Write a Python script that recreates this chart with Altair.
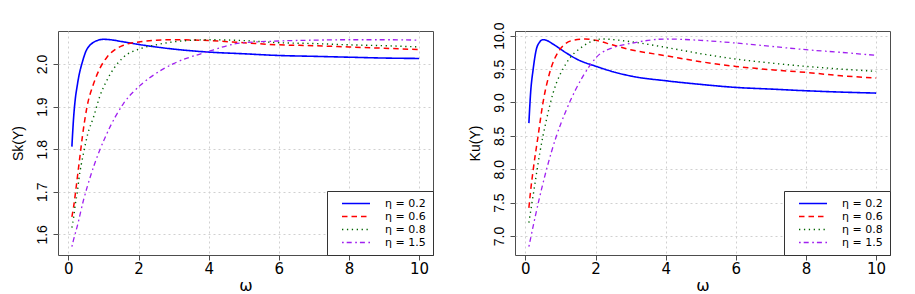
import altair as alt
import pandas as pd

labels = ["η = 0.2", "η = 0.6", "η = 0.8", "η = 1.5"]
colors = ["#0000FF", "#FF0000", "#006400", "#A020F0"]
dashes = [[1, 0], [5.5, 4], [1.3, 3.6], [1.7, 3, 5, 3.5]]
widths = [1.6, 1.3, 1.3, 1.3]

# Skewness panel
sk_w_02 = [0.1, 0.15, 0.2, 0.25, 0.3, 0.4, 0.5, 0.6, 0.7, 0.85, 1.0, 1.2, 1.5, 2.0, 2.5, 3.0, 4.0, 5.0, 6.0, 7.0, 8.0, 9.0, 10.0]
sk_v_02 = [1.806, 1.875, 1.92, 1.948, 1.972, 2.005, 2.030, 2.043, 2.050, 2.056, 2.058, 2.057, 2.053, 2.046, 2.040, 2.035, 2.028, 2.024, 2.020, 2.018, 2.016, 2.014, 2.013]
sk_w_06 = [0.1, 0.15, 0.2, 0.25, 0.34, 0.4, 0.53, 0.72, 0.9, 1.1, 1.3, 1.57, 2.05, 2.5, 3.0, 4.0, 5.0, 6.0, 7.0, 8.0, 9.0, 10.0]
sk_v_06 = [1.641, 1.665, 1.696, 1.73, 1.79, 1.83, 1.899, 1.954, 1.99, 2.016, 2.032, 2.044, 2.052, 2.056, 2.057, 2.055, 2.050, 2.045, 2.043, 2.040, 2.037, 2.034]
sk_w_08 = [0.1, 0.15, 0.2, 0.25, 0.3, 0.43, 0.55, 0.72, 0.9, 1.1, 1.3, 1.57, 2.05, 2.5, 3.0, 4.0, 5.0, 6.0, 7.0, 8.0, 9.0, 10.0]
sk_v_08 = [1.616, 1.64, 1.672, 1.696, 1.73, 1.79, 1.835, 1.876, 1.925, 1.962, 1.99, 2.016, 2.036, 2.045, 2.052, 2.057, 2.055, 2.050, 2.048, 2.045, 2.043, 2.040]
sk_w_15 = [0.1, 0.15, 0.25, 0.43, 0.55, 0.72, 1.1, 1.57, 2.05, 2.5, 3.0, 3.94, 4.89, 6.0, 7.0, 8.0, 9.0, 10.0]
sk_v_15 = [1.571, 1.588, 1.618, 1.680, 1.715, 1.759, 1.837, 1.907, 1.950, 1.978, 2.001, 2.028, 2.049, 2.054, 2.056, 2.057, 2.057, 2.056]

# Kurtosis panel
ku_w_02 = [0.1, 0.15, 0.22, 0.31, 0.4, 0.5, 0.6, 0.8, 1.17, 1.5, 2.02, 2.5, 3.06, 4.0, 5.0, 6.0, 7.0, 8.0, 9.0, 10.0]
ku_v_02 = [8.69, 9.15, 9.49, 9.79, 9.90, 9.94, 9.93, 9.87, 9.74, 9.64, 9.54, 9.46, 9.39, 9.325, 9.27, 9.225, 9.20, 9.175, 9.155, 9.14]
ku_w_06 = [0.1, 0.15, 0.22, 0.36, 0.5, 0.69, 0.98, 1.35, 1.7, 2.0, 2.5, 3.0, 4.0, 5.0, 6.0, 7.0, 8.0, 9.0, 10.0]
ku_v_06 = [7.42, 7.68, 7.98, 8.49, 8.99, 9.44, 9.79, 9.93, 9.95, 9.93, 9.86, 9.79, 9.70, 9.61, 9.54, 9.49, 9.45, 9.40, 9.365]
ku_w_08 = [0.1, 0.26, 0.41, 0.6, 0.79, 1.17, 1.64, 2.2, 2.7, 3.0, 4.0, 5.0, 6.0, 7.0, 8.0, 9.0, 10.0]
ku_v_08 = [7.20, 7.74, 8.24, 8.74, 9.14, 9.59, 9.84, 9.95, 9.93, 9.91, 9.825, 9.73, 9.65, 9.59, 9.54, 9.50, 9.465]
ku_w_15 = [0.1, 0.26, 0.41, 0.6, 0.88, 1.17, 1.64, 2.11, 2.5, 3.06, 4.0, 5.0, 6.0, 7.0, 8.0, 9.0, 10.0]
ku_v_15 = [6.84, 7.24, 7.59, 7.99, 8.49, 8.89, 9.39, 9.72, 9.82, 9.89, 9.95, 9.93, 9.89, 9.84, 9.79, 9.75, 9.705]

x_ticks = [0, 2, 4, 6, 8, 10]
sk_ticks = [1.6, 1.7, 1.8, 1.9, 2.0]
ku_ticks = [7.0, 7.5, 8.0, 8.5, 9.0, 9.5, 10.0]


def frame(ws, vs):
    rows = []
    for lab, w, v in zip(labels, ws, vs):
        for i, (a, b) in enumerate(zip(w, v)):
            rows.append({"eta": lab, "omega": a, "val": b, "order": i})
    return pd.DataFrame(rows)


sk_df = frame([sk_w_02, sk_w_06, sk_w_08, sk_w_15], [sk_v_02, sk_v_06, sk_v_08, sk_v_15])
ku_df = frame([ku_w_02, ku_w_06, ku_w_08, ku_w_15], [ku_v_02, ku_v_06, ku_v_08, ku_v_15])

legend = alt.Legend(
    title=None, orient="bottom-right", offset=0, strokeColor="#333333",
    fillColor="white", padding=7, cornerRadius=0, symbolType="stroke",
    symbolSize=784, symbolOffset=7, labelOffset=14, rowPadding=1, clipHeight=11,
    labelFont="DejaVu Sans", labelFontSize=11, labelColor="#000000",
    symbolStrokeWidth=1.3,
)


def panel(df, title, ticks, dom):
    return alt.Chart(df).mark_line(interpolate="monotone", clip=True).encode(
        x=alt.X("omega:Q", title="ω",
                scale=alt.Scale(domain=[-0.296, 10.396], nice=False, zero=False),
                axis=alt.Axis(values=x_ticks, format="d", labelFont="DejaVu Sans",
                              labelFontSize=15, titleFont="DejaVu Sans", titleFontSize=16,
                              titleFontWeight="normal", labelPadding=1, titlePadding=1)),
        y=alt.Y("val:Q", title=title,
                scale=alt.Scale(domain=dom, nice=False, zero=False),
                axis=alt.Axis(values=ticks, format=".1f", labelAngle=270,
                              labelAlign="center", labelBaseline="bottom",
                              labelFont="Liberation Sans", labelFontSize=14,
                              titleFont="Liberation Sans", titleFontSize=14,
                              titleFontWeight="normal", labelPadding=4, titlePadding=10)),
        color=alt.Color("eta:N", scale=alt.Scale(domain=labels, range=colors), legend=legend),
        strokeDash=alt.StrokeDash("eta:N", scale=alt.Scale(domain=labels, range=dashes), legend=legend),
        strokeWidth=alt.StrokeWidth("eta:N", scale=alt.Scale(domain=labels, range=widths), legend=legend),
        order="order:Q",
    ).properties(width=375, height=224)


left = panel(sk_df, "Sk(Y)", sk_ticks, [1.5515, 2.0775])
right = panel(ku_df, "Ku(Y)", ku_ticks, [6.715, 10.07])

chart = alt.hconcat(left, right, spacing=33).resolve_scale(
    color="independent", strokeDash="independent", strokeWidth="independent"
).resolve_legend(
    color="independent", strokeDash="independent", strokeWidth="independent"
).properties(
    padding={"top": 13, "left": 2, "right": 0, "bottom": 0}
).configure_view(
    stroke="#4d4d4d", strokeWidth=1
).configure_axis(
    domain=False, grid=True, gridColor="#d0d0d0", gridDash=[2, 3], gridWidth=1,
    tickColor="#4d4d4d", tickSize=5, labelColor="#000000", titleColor="#000000",
)

chart.save("out.html", embed_options={"renderer": "svg", "actions": False})
